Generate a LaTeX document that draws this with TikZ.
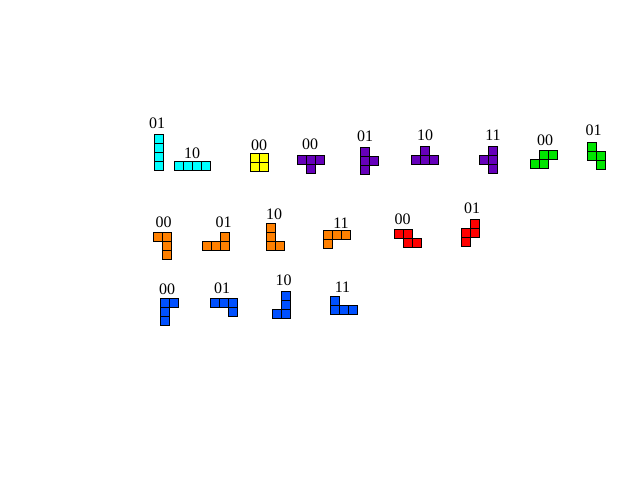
\documentclass[tikz,border=0pt]{standalone}
\usepackage{fontspec}
\setmainfont{Liberation Serif}
\usepackage{tikz}
\usetikzlibrary{positioning, calc}
\definecolor{piece_cyan}{RGB}{0,255,255}
\definecolor{piece_yellow}{RGB}{255,255,0}
\definecolor{piece_purple}{RGB}{102,0,187}
\definecolor{piece_green}{RGB}{0,230,0}
\definecolor{piece_orange}{RGB}{255,128,0}
\definecolor{piece_red}{RGB}{255,0,0}
\definecolor{piece_blue}{RGB}{0,80,255}
\tikzstyle{cell} = [draw=black, line width=0.75pt]
\tikzstyle{rot_label} = [inner sep=0pt, font=\fontsize{12}{14}\selectfont, text=black]

\begin{document}
\begin{tikzpicture}[x=0.75pt, y=-0.75pt]
	\useasboundingbox (0,0) rectangle (640,480);

		% First row: I, O, T and S pieces
		\node (I_01) at (157,123) [rot_label] {01};
		\foreach \c/\r in {0/0,0/1,0/2,0/3} \draw [cell, fill=piece_cyan] (154+\c*9,134+\r*9) rectangle +(9,9);
		\node (I_10) at (192,153) [rot_label] {10};
		\foreach \c/\r in {0/0,1/0,2/0,3/0} \draw [cell, fill=piece_cyan] (174+\c*9,161+\r*9) rectangle +(9,9);
		% -
		\node (O_00) at (259,145) [rot_label] {00};
		\foreach \c/\r in {0/0,1/0,0/1,1/1} \draw [cell, fill=piece_yellow] (250+\c*9,153+\r*9) rectangle +(9,9);
		% -
		\node (T_00) at (310,144) [rot_label] {00};
		\foreach \c/\r in {0/0,1/0,2/0,1/1} \draw [cell, fill=piece_purple] (297+\c*9,155+\r*9) rectangle +(9,9);
		\node (T_01) at (365,136.5) [rot_label] {01};
		\foreach \c/\r in {0/0,0/1,1/1,0/2} \draw [cell, fill=piece_purple] (360+\c*9,147+\r*9) rectangle +(9,9);
		\node (T_10) at (425,135) [rot_label] {10};
		\foreach \c/\r in {1/0,0/1,1/1,2/1} \draw [cell, fill=piece_purple] (411+\c*9,146+\r*9) rectangle +(9,9);
		\node (T_11) at (493,135.5) [rot_label] {11};
		\foreach \c/\r in {1/0,0/1,1/1,1/2} \draw [cell, fill=piece_purple] (479+\c*9,146+\r*9) rectangle +(9,9);
		% -
		\node (S_00) at (545,140) [rot_label] {00};
		\foreach \c/\r in {1/0,2/0,0/1,1/1} \draw [cell, fill=piece_green] (530+\c*9,150+\r*9) rectangle +(9,9);
		\node (S_01) at (593.5,130) [rot_label] {01};
		\foreach \c/\r in {0/0,0/1,1/1,1/2} \draw [cell, fill=piece_green] (587+\c*9,142+\r*9) rectangle +(9,9);

		% Second row: L and Z pieces
		\node (L_00) at (163.5,222.5) [rot_label] {00};
		\foreach \c/\r in {0/0,1/0,1/1,1/2} \draw [cell, fill=piece_orange] (153+\c*9,232+\r*9) rectangle +(9,9);
		\node (L_01) at (223.5,222.5) [rot_label] {01};
		\foreach \c/\r in {2/0,0/1,1/1,2/1} \draw [cell, fill=piece_orange] (202+\c*9,232+\r*9) rectangle +(9,9);
		\node (L_10) at (274,214) [rot_label] {10};
		\foreach \c/\r in {0/0,0/1,0/2,1/2} \draw [cell, fill=piece_orange] (266+\c*9,223+\r*9) rectangle +(9,9);
		\node (L_11) at (341,223) [rot_label] {11};
		\foreach \c/\r in {0/0,1/0,2/0,0/1} \draw [cell, fill=piece_orange] (323+\c*9,230+\r*9) rectangle +(9,9);
		% -
		\node (Z_00) at (402.5,219) [rot_label] {00};
		\foreach \c/\r in {0/0,1/0,1/1,2/1} \draw [cell, fill=piece_red] (394+\c*9,229+\r*9) rectangle +(9,9);
		\node (Z_01) at (472,208.5) [rot_label] {01};
		\foreach \c/\r in {1/0,0/1,1/1,0/2} \draw [cell, fill=piece_red] (461+\c*9,219+\r*9) rectangle +(9,9);

		% Third row: J pieces
		\node (J_00) at (167,289) [rot_label] {00};
		\foreach \c/\r in {0/0,1/0,0/1,0/2} \draw [cell, fill=piece_blue] (160+\c*9,298+\r*9) rectangle +(9,9);
		\node (J_01) at (222,288.5) [rot_label] {01};
		\foreach \c/\r in {0/0,1/0,2/0,2/1} \draw [cell, fill=piece_blue] (210+\c*9,298+\r*9) rectangle +(9,9);
		\node (J_10) at (283.5,280.5) [rot_label] {10};
		\foreach \c/\r in {1/0,1/1,0/2,1/2} \draw [cell, fill=piece_blue] (272+\c*9,291+\r*9) rectangle +(9,9);
		\node (J_11) at (342.5,287.5) [rot_label] {11};
		\foreach \c/\r in {0/0,0/1,1/1,2/1} \draw [cell, fill=piece_blue] (330+\c*9,296+\r*9) rectangle +(9,9);

	\end{tikzpicture}
\end{document}
